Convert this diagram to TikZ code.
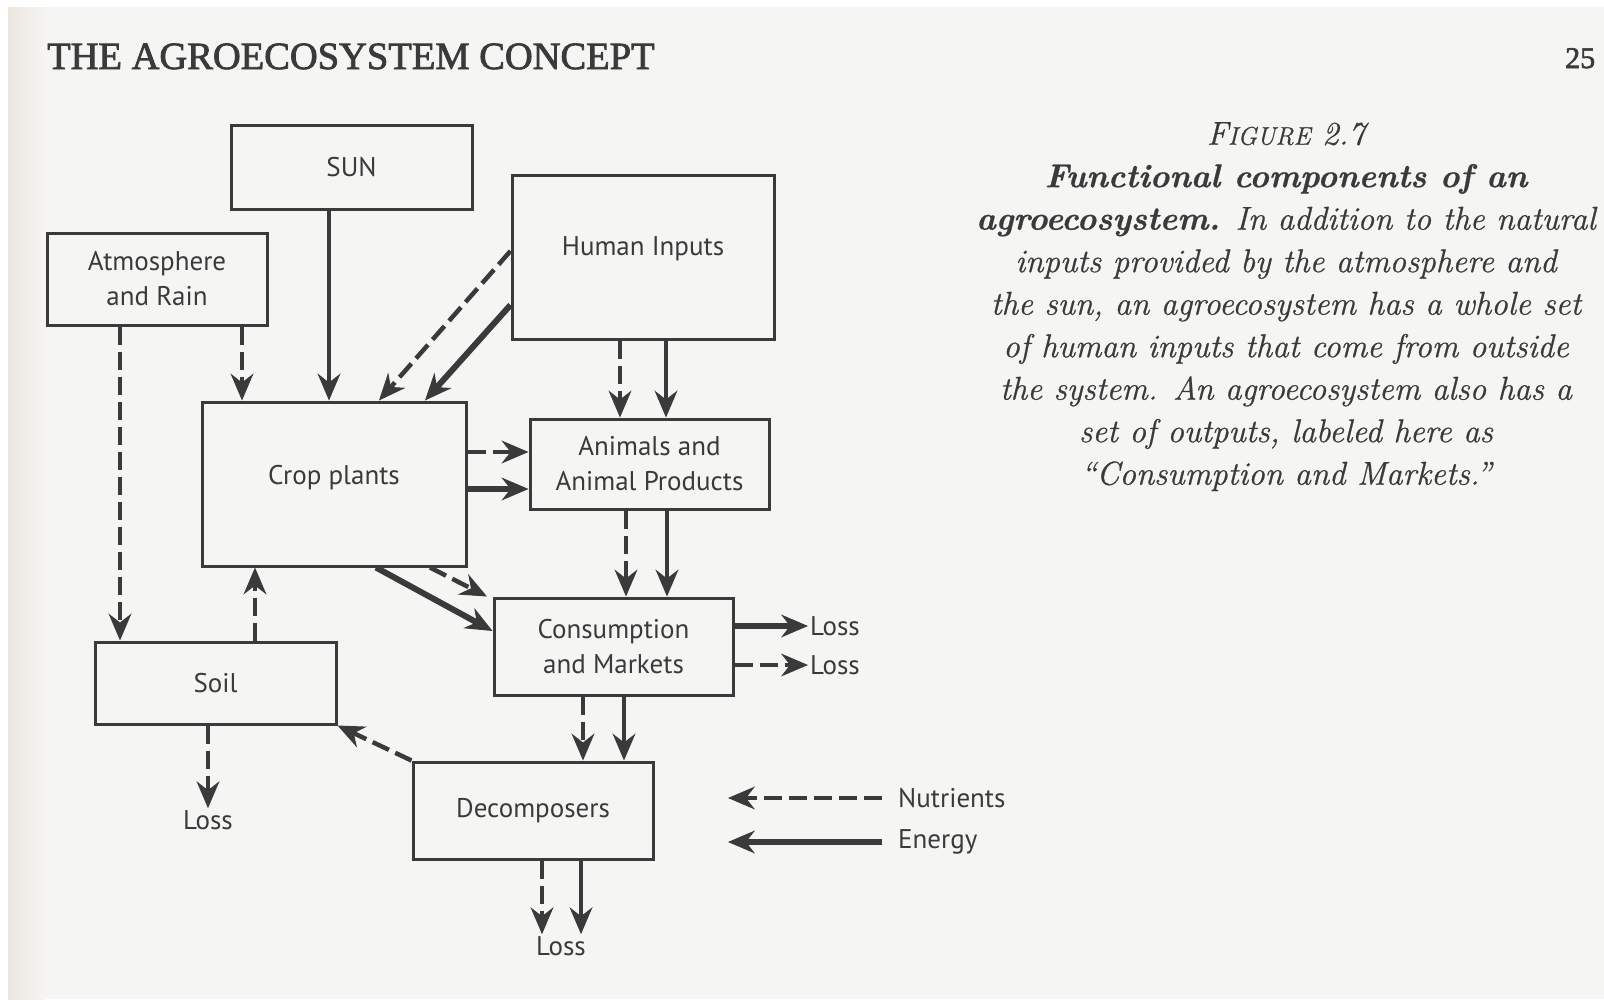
\documentclass[tikz,border=0pt]{standalone}
\usepackage{fontspec}
\newfontfamily\boxfont{PT Sans}
\newfontfamily\titlefont[FakeBold=2]{Liberation Serif}
\newfontfamily\capfont[FakeBold=0.7, Ligatures=TeX]{Latin Modern Roman}
\usetikzlibrary{arrows.meta}
\definecolor{ink}{HTML}{3A3A3A}
\definecolor{paper}{HTML}{F5F5F3}
\definecolor{edge}{HTML}{ECE6E0}
\begin{document}
\begin{tikzpicture}[x=1pt, y=-1pt,
        box/.style={draw=ink, line width=3pt, text=ink, align=center, inner sep=0pt,
            font=\boxfont\fontsize{27}{35}\selectfont},
        losstext/.style={text=ink, inner sep=2pt, font=\boxfont\fontsize{27}{35}\selectfont},
        tip/.style={-{Stealth[length=27pt, width=23pt, inset=9pt, line width=1pt]}},
        nut/.style={draw=ink, line width=4.5pt, dash pattern=on 18pt off 7pt, tip},
        ener/.style={draw=ink, line width=3.5pt, tip},
        enerbig/.style={ener, line width=6pt}]
                \useasboundingbox (0, 0) rectangle (1604, 999);
                \fill[white] (0, 0) rectangle (1604, 999);
                \fill[paper] (8, 7) rectangle (1604, 999);
                \shade[left color=edge, right color=paper] (8, 7) rectangle (45, 999);

                \node[anchor=base west, inner sep=0pt, text=ink, font=\titlefont\fontsize{38.5}{39}\selectfont] (title) at (47, 69) {THE AGROECOSYSTEM CONCEPT};
                \node[anchor=base west, inner sep=0pt, text=ink, font=\titlefont\fontsize{30}{30}\selectfont] (page) at (1565, 68) {25};

                \node[box, minimum width=241pt, minimum height=84pt] (sun) at (351.5, 167) {SUN};
                \node[box, minimum width=220pt, minimum height=92pt] (atm) at (157, 279) {Atmosphere\\and Rain};
                \node[box, minimum width=262pt, minimum height=164pt,
                    label={[losstext, yshift=8pt]center:Human Inputs}] (human) at (643, 257) {};
                \node[box, minimum width=264pt, minimum height=164pt,
                    label={[losstext, yshift=6pt]center:Crop plants}] (crop) at (334, 484) {};
                \node[box, minimum width=239pt, minimum height=90pt] (animals) at (649.5, 464) {Animals and\\Animal Products};
                \node[box, minimum width=239pt, minimum height=97pt] (consump) at (613.5, 646.5) {Consumption\\and Markets};
                \node[box, minimum width=241pt, minimum height=82pt] (soil) at (215.5, 683) {Soil};
                \node[box, minimum width=240pt, minimum height=97pt] (decomp) at (533, 810.5) {Decomposers};

                \node[losstext, anchor=west] (lossa) at (808, 626) {Loss};
                \node[losstext, anchor=west] (lossb) at (808, 665) {Loss};
                \node[losstext] (lossc) at (208, 820) {Loss};
                \node[losstext] (lossd) at (561, 946) {Loss};
                \node[losstext, anchor=west, inner xsep=16pt] (nutr) at (882, 798) {Nutrients};
                \node[losstext, anchor=west, inner xsep=16pt] (energy) at (882, 842) {Energy};
                \coordinate (nutrtip) at (728, 798);
                \coordinate (energytip) at (728, 842);

                \draw[nut] (120, 0 |- atm.south) -- (120, 0 |- soil.north);
                \draw[nut] (242, 0 |- atm.south) -- (242, 0 |- crop.north);
                \draw[ener] (329, 0 |- sun.south) -- (329, 0 |- crop.north);
                \draw[nut] (human.west |- 0, 251) -- (379, 0 |- crop.north);
                \draw[enerbig] (human.west |- 0, 305) -- (425, 0 |- crop.north);
                \draw[nut] (620, 0 |- human.south) -- (620, 0 |- animals.north);
                \draw[ener] (666, 0 |- human.south) -- (666, 0 |- animals.north);
                \draw[nut] (crop.east |- 0, 452) -- (animals.west |- 0, 452);
                \draw[enerbig] (crop.east |- 0, 489) -- (animals.west |- 0, 489);
                \draw[nut] (626, 0 |- animals.south) -- (626, 0 |- consump.north);
                \draw[ener] (667, 0 |- animals.south) -- (667, 0 |- consump.north);
                \draw[nut] (430, 0 |- crop.south) -- (487, 0 |- consump.north);
                \draw[enerbig] (376, 0 |- crop.south) -- (consump.west |- 0, 631);
                \draw[nut] (255, 0 |- soil.north) -- (255, 0 |- crop.south);
                \draw[enerbig] (consump.east |- lossa) -- (lossa.west);
                \draw[nut] (consump.east |- lossb) -- (lossb.west);
                \draw[nut] (583, 0 |- consump.south) -- (583, 0 |- decomp.north);
                \draw[ener] (624, 0 |- consump.south) -- (624, 0 |- decomp.north);
                \draw[nut] (decomp.north west) -- (soil.south east);
                \draw[nut] (lossc |- soil.south) -- (lossc.north);
                \draw[nut] (542, 0 |- decomp.south) -- (542, 0 |- lossd.north);
                \draw[ener] (581, 0 |- decomp.south) -- (581, 0 |- lossd.north);
                \draw[nut] (nutr.west) -- (nutrtip);
                \draw[enerbig] (energy.west) -- (energytip);

                \node[anchor=north, inner sep=0pt, align=center, text=ink,
                    font=\capfont\fontsize{33}{42.5}\selectfont\itshape] (caption) at (1286, 122)
                    {F{\fontsize{25.5}{30}\selectfont IGURE} 2.7\\
                    \textbf{Functional components of an}\\
                    \textbf{agroecosystem.} In addition to the natural\\
                    inputs provided by the atmosphere and\\
                    the sun, an agroecosystem has a whole set\\
                    of human inputs that come from outside\\
                    the system. An agroecosystem also has a\\
                    set of outputs, labeled here as\\
                    “Consumption and Markets.”};
            \end{tikzpicture}
\end{document}
